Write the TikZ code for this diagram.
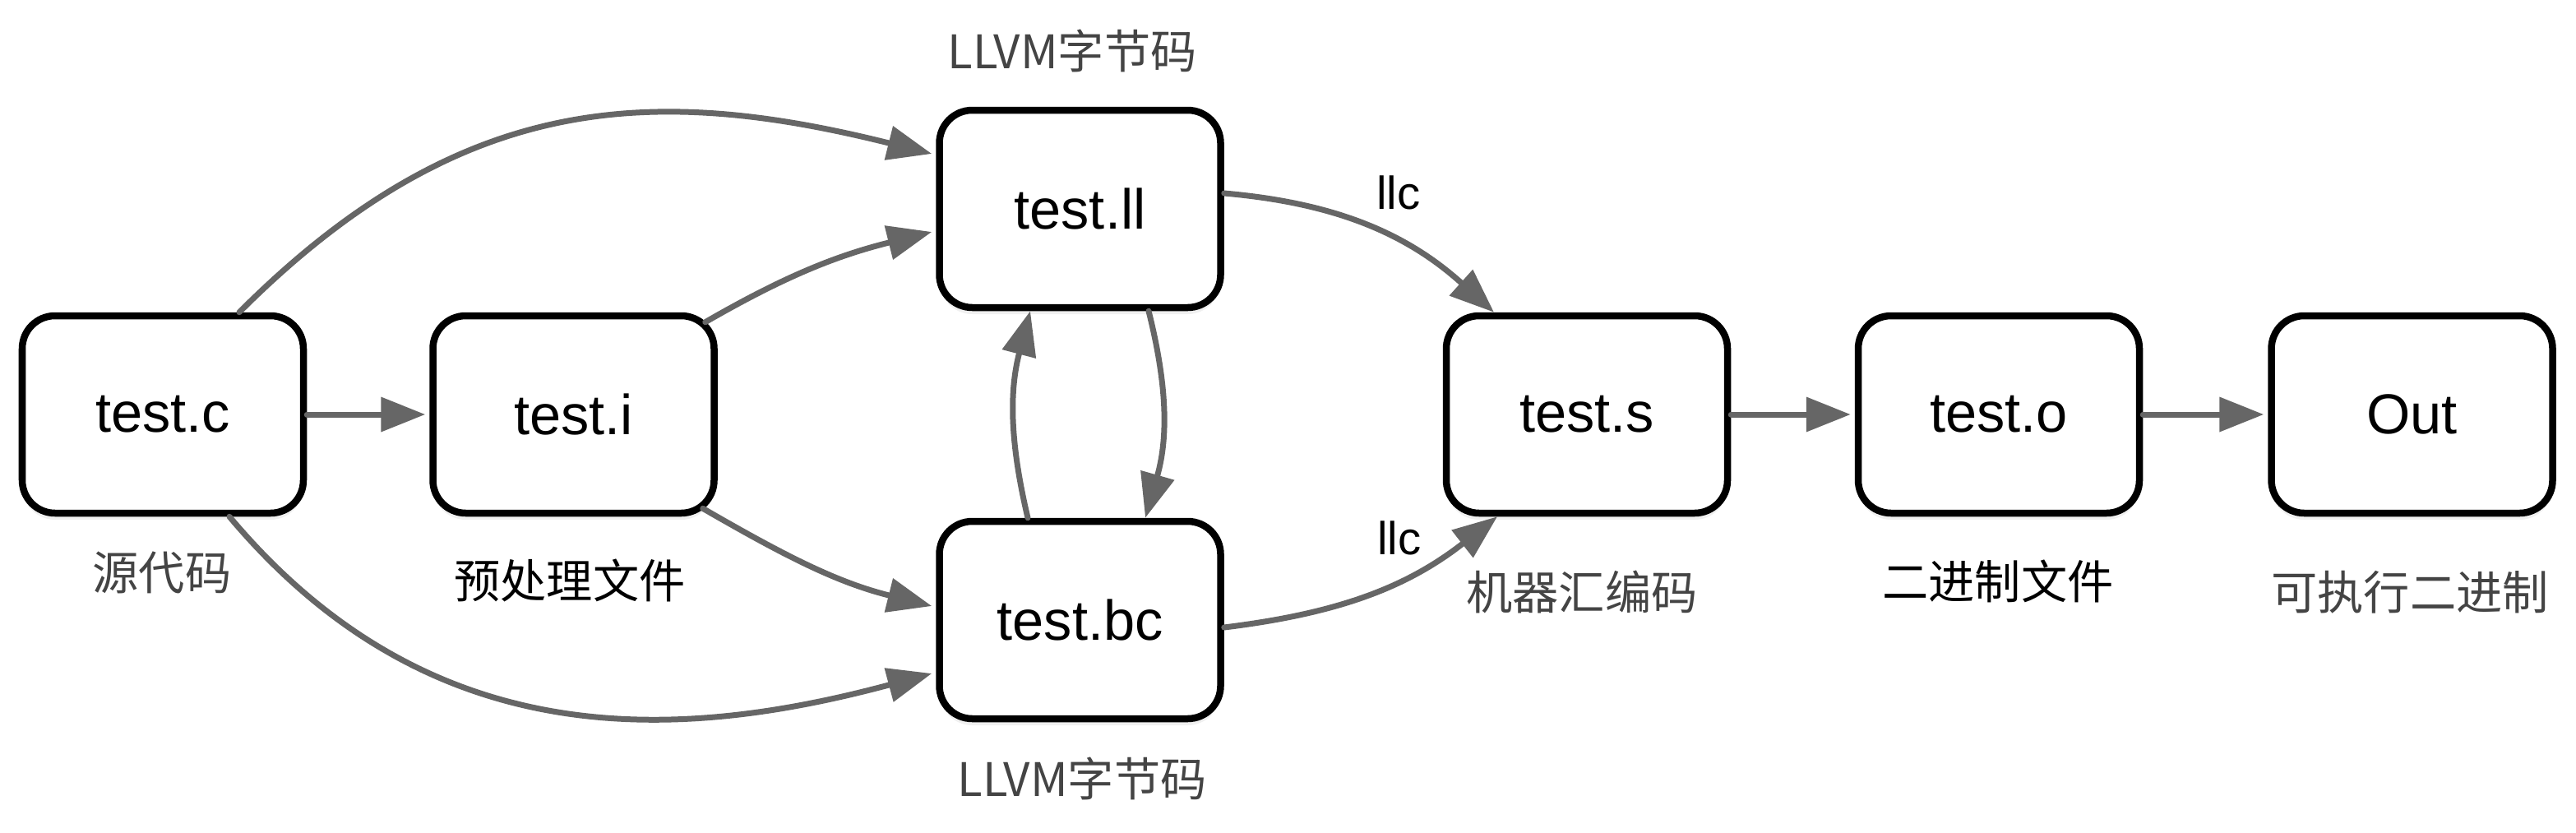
\documentclass[tikz,border=0pt]{standalone}
\usepackage{fontspec}
\setmainfont{Liberation Sans}
\newfontfamily\cjk{Noto Sans CJK SC}
\usetikzlibrary{arrows.meta,shadows}
\definecolor{flowgray}{HTML}{666666}
\definecolor{notegray}{HTML}{444444}
\begin{document}
\begin{tikzpicture}[
    file/.style={draw, line width=0.85mm, rounded corners=4mm, fill=white,
      minimum width=34.2mm, minimum height=24mm,
      font=\fontsize{19.5}{23}\selectfont,
      drop shadow={opacity=0.12, shadow xshift=0mm, shadow yshift=-0.8mm}},
    flow/.style={draw=flowgray, line width=0.7mm, line cap=round,
      -{Triangle[length=5.4mm,width=4.1mm]}},
    note/.style={font=\cjk\fontsize{16}{19}\selectfont, text=notegray},
    darknote/.style={font=\cjk\fontsize{16}{19}\selectfont, text=black},
    tool/.style={font=\fontsize{16}{19}\selectfont}]
        \useasboundingbox (0,0) rectangle (31.33,10.12);

        \node[file] (c) at (1.98,5.08) {test.c};
        \node[file] (i) at (6.975,5.08) {test.i};
        \node[file] (ll) at (13.135,7.58) {test.ll};
        \node[file] (bc) at (13.135,2.58) {test.bc};
        \node[file] (s) at (19.30,5.08) {test.s};
        \node[file] (o) at (24.31,5.08) {test.o};
        \node[file] (out) at (29.335,5.08) {Out};

        \node[note] (csrc) at (1.97,3.16) {源代码};
        \node[darknote] (ipre) at (6.93,3.06) {预处理文件};
        \node[note] (lltop) at (13.04,9.50) {LLVM字节码};
        \node[note] (bcbot) at (13.16,0.65) {LLVM字节码};
        \node[tool] (llcup) at (17.01,7.78) {llc};
        \node[tool] (llcdown) at (17.02,3.58) {llc};
        \node[note] (sasm) at (19.24,2.92) {机器汇编码};
        \node[darknote] (obin) at (24.30,3.05) {二进制文件};
        \node[note] (outexe) at (29.31,2.92) {可执行二进制};

        \draw[flow, shorten >=0.5mm] (c) -- (i);
        \draw[flow, shorten >=0.5mm] (s) -- (o);
        \draw[flow, shorten >=0.5mm] (o) -- (out);

        \draw[flow] ([xshift=9.3mm]c.north) .. controls +(45:3.8) and +(166:3.5) .. ([xshift=-0.5mm,yshift=6.7mm]ll.west);
        \draw[flow] ([xshift=8.1mm]c.south) .. controls +(-50:3.8) and +(195:3.2) .. ([xshift=-0.5mm,yshift=-6.5mm]bc.west);
        \draw[flow] ([xshift=-1.5mm,yshift=-1.2mm]i.north east) to[out=30,in=194] ([xshift=-0.5mm,yshift=-2.8mm]ll.west);
        \draw[flow] ([xshift=-1.8mm,yshift=1mm]i.south east) to[out=-30,in=166] ([xshift=-0.5mm,yshift=1.7mm]bc.west);

        \draw[flow] ([xshift=-6.35mm]bc.north) to[bend left=14] ([xshift=-6.05mm]ll.south);
        \draw[flow] ([xshift=8.35mm]ll.south) to[bend left=15] ([xshift=7.95mm]bc.north);

        \draw[flow] ([yshift=1.9mm]ll.east) to[out=-5,in=138] ([xshift=-11.3mm]s.north);
        \draw[flow] ([yshift=-0.9mm]bc.east) to[out=7,in=-142] ([xshift=-10.9mm]s.south);
      \end{tikzpicture}
\end{document}
